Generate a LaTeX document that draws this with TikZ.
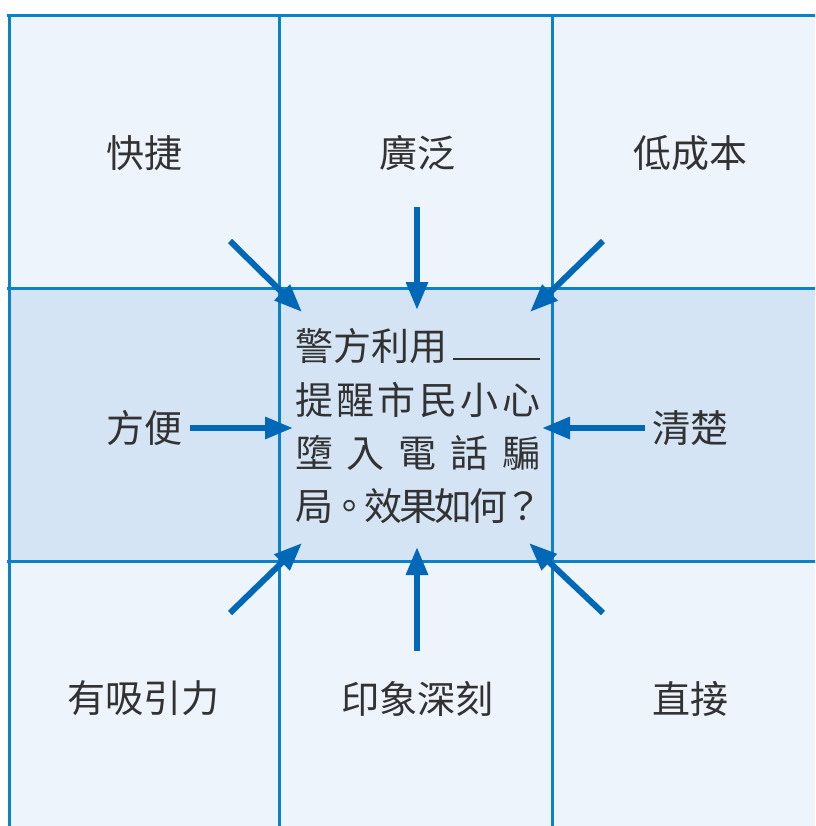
\documentclass[tikz,border=0pt]{standalone}
\usepackage{fontspec}
\newfontfamily\cjk{Noto Sans CJK TC}
\usetikzlibrary{arrows.meta}
\definecolor{gridblue}{RGB}{10,130,202}
\definecolor{arrowblue}{RGB}{0,104,183}
\definecolor{paleblue}{RGB}{237,244,252}
\definecolor{midblue}{RGB}{212,228,245}
\definecolor{txt}{RGB}{50,50,50}
\tikzset{
  gridline/.style={draw=gridblue, line width=3pt},
  pointer/.style={draw=arrowblue, line width=6pt, -{Triangle[length=28pt,width=21pt]}},
  lbl/.style={font=\cjk\fontsize{38}{38}\selectfont, text=txt, inner sep=0pt},
  qline/.style={font=\cjk\fontsize{38}{38}\selectfont, text=txt, inner sep=0pt, anchor=base west},
}
\begin{document}
\begin{tikzpicture}[x=1pt,y=-1pt]
\useasboundingbox (0,0) rectangle (815,826);
\fill[white] (0,0) rectangle (815,826);
% cell fills
\fill[paleblue] (9,16) rectangle (815,826);
\fill[midblue] (9,288) rectangle (815,561);
% grid lines
\draw[gridline] (7,16) -- (815,16);
\draw[gridline] (7,288) -- (815,288);
\draw[gridline] (7,561) -- (815,561);
\draw[gridline] (9,16) -- (9,826);
\draw[gridline] (279,14) -- (279,826);
\draw[gridline] (552,14) -- (552,826);
% labels
\node[lbl] (kuaijie) at (144,153.5) {快捷};
\node[lbl] (guangfan) at (417,153.5) {廣泛};
\node[lbl] (dichengben) at (690,153.5) {低成本};
\node[lbl] (fangbian) at (144,428) {方便};
\node[lbl] (qingchu) at (690,428) {清楚};
\node[lbl] (youxiyinli) at (143,698.5) {有吸引力};
\node[lbl] (yinxiang) at (417,698.5) {印象深刻};
\node[lbl] (zhijie) at (690,698.5) {直接};
% question text
\node[qline] (q1) at (295,360.5) {\makebox[245pt][l]{警方利用\hspace{6pt}\rule[1pt]{87pt}{2pt}}};
\node[qline] (q2) at (295,414) {\makebox[245pt][s]{提\hfill 醒\hfill 市\hfill 民\hfill 小\hfill 心}};
\node[qline] (q3) at (295,467.5) {\makebox[245pt][s]{墮\hfill 入\hfill 電\hfill 話\hfill 騙}};
\node[qline] (q4) at (295,520.5) {\makebox[245pt][l]{局\hspace{-3.2pt}。\hspace{-3.2pt}效\hspace{-3.2pt}果\hspace{-3.2pt}如\hspace{-3.2pt}何\hspace{-3.2pt}？}};
% arrow coordinates
\coordinate (s1) at (230,241); \coordinate (t1) at (302,312);
\coordinate (s2) at (417,207); \coordinate (t2) at (417,310);
\coordinate (s3) at (603,241); \coordinate (t3) at (530,312);
\coordinate (s4) at (190,428); \coordinate (t4) at (293,428);
\coordinate (s5) at (645,428); \coordinate (t5) at (542,428);
\coordinate (s6) at (230,613); \coordinate (t6) at (302,543);
\coordinate (s7) at (417,651); \coordinate (t7) at (417,547);
\coordinate (s8) at (603,613); \coordinate (t8) at (529,543);
\foreach \i in {1,...,8} { \draw[pointer] (s\i) -- (t\i); }
\end{tikzpicture}
\end{document}
